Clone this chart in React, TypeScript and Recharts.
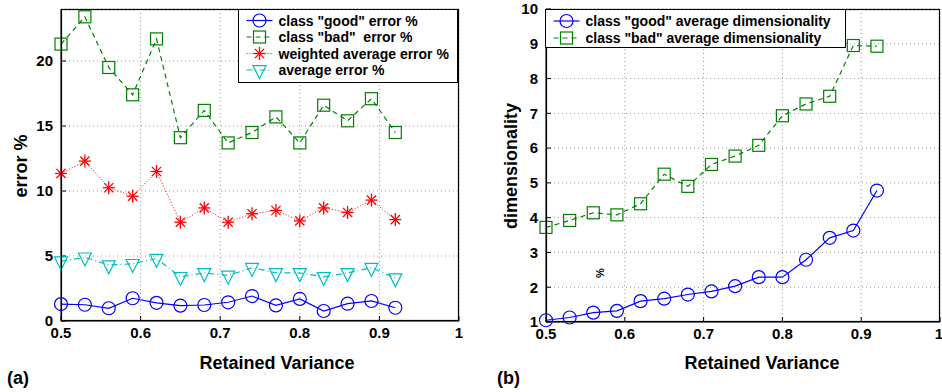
import React from 'react';
import { LineChart, Line, XAxis, YAxis, CartesianGrid } from 'recharts';

// values
const retainedVariance = [0.5, 0.53, 0.56, 0.59, 0.62, 0.65, 0.68, 0.71, 0.74, 0.77, 0.8, 0.83, 0.86, 0.89, 0.92];
const goodError = [1.3, 1.25, 0.98, 1.75, 1.4, 1.18, 1.23, 1.44, 1.92, 1.2, 1.7, 0.77, 1.33, 1.54, 1.02];
const badError = [21.3, 23.4, 19.5, 17.4, 21.7, 14.1, 16.2, 13.7, 14.5, 15.7, 13.7, 16.6, 15.4, 17.1, 14.5];
const weightedError = [11.35, 12.3, 10.25, 9.6, 11.5, 7.6, 8.7, 7.6, 8.25, 8.5, 7.7, 8.7, 8.35, 9.3, 7.8];
const averageError = [4.6, 4.9, 4.3, 4.4, 4.8, 3.4, 3.7, 3.5, 4.1, 3.7, 3.7, 3.4, 3.7, 4.1, 3.3];
const goodDim = [1.05, 1.13, 1.27, 1.32, 1.6, 1.67, 1.79, 1.88, 2.03, 2.29, 2.29, 2.79, 3.42, 3.63, 4.78];
const badDim = [3.72, 3.92, 4.14, 4.08, 4.4, 5.25, 4.9, 5.53, 5.77, 6.08, 6.93, 7.27, 7.49, 8.95, 8.93];

const xTicks = [0.5, 0.6, 0.7, 0.8, 0.9, 1];
const errorTicks = [0, 5, 10, 15, 20];
const dimTicks = [1, 2, 3, 4, 5, 6, 7, 8, 9, 10];

const legendA = ['class "good" error %', 'class "bad"  error %', 'weighted average error %', 'average error %'];
const legendB = ['class "good" average dimensionality', 'class "bad" average dimensionality'];

const FONT = '"Liberation Sans", Arial, Helvetica, sans-serif';
const BLUE = '#0000ff';
const GREEN = '#008000';
const RED = '#ff0000';
const CYAN = '#00bfbf';

// layout of the two panels
const Y_AXIS_W = 50;
const X_AXIS_H = 30;
const panelA = { left: 0, width: 470, margin: { top: 9, right: 11, left: 11, bottom: 41 } };
const panelB = { left: 470, width: 472, margin: { top: 9, right: 2, left: 26, bottom: 40 } };
const HEIGHT = 392;

const plotBox = (p: typeof panelA) => ({
  x: p.left + p.margin.left + Y_AXIS_W,
  y: p.margin.top,
  w: p.width - p.margin.left - p.margin.right - Y_AXIS_W,
  h: HEIGHT - p.margin.top - p.margin.bottom - X_AXIS_H,
});

const errorData = retainedVariance.map((x, i) => ({
  x,
  good: goodError[i],
  bad: badError[i],
  weighted: weightedError[i],
  average: averageError[i],
}));

const dimData = retainedVariance.map((x, i) => ({ x, good: goodDim[i], bad: badDim[i] }));

// markers, matlab style
const CircleMark = ({ cx, cy }: { cx: number; cy: number }) => (
  <circle cx={cx} cy={cy} r={6.5} fill="none" stroke={BLUE} strokeWidth={1.2} />
);
const SquareMark = ({ cx, cy }: { cx: number; cy: number }) => (
  <rect x={cx - 6} y={cy - 6} width={12} height={12} fill="none" stroke={GREEN} strokeWidth={1.2} />
);
const StarMark = ({ cx, cy }: { cx: number; cy: number }) => (
  <g stroke={RED} strokeWidth={1.3}>
    <line x1={cx - 6} y1={cy} x2={cx + 6} y2={cy} />
    <line x1={cx} y1={cy - 6.5} x2={cx} y2={cy + 6.5} />
    <line x1={cx - 4.6} y1={cy - 4.6} x2={cx + 4.6} y2={cy + 4.6} />
    <line x1={cx - 4.6} y1={cy + 4.6} x2={cx + 4.6} y2={cy - 4.6} />
  </g>
);
const TriMark = ({ cx, cy }: { cx: number; cy: number }) => (
  <polygon
    points={`${cx - 6.5},${cy - 4.3} ${cx + 6.5},${cy - 4.3} ${cx},${cy + 8.7}`}
    fill="none"
    stroke={CYAN}
    strokeWidth={1.2}
  />
);

const dotOf = (Mark: any) => (props: any) => {
  if (props.cx == null || props.cy == null) return <g key={`e-${props.index}`} />;
  return <Mark key={`d-${props.index}`} cx={props.cx} cy={props.cy} />;
};

const tickStyle = { fill: '#000', fontSize: 15, fontWeight: 'bold', fontFamily: FONT };

// last x label sits on the page edge, keep it inside
const XTick = (props: any) => {
  const { x, y, payload } = props;
  const last = payload.value === xTicks[xTicks.length - 1];
  return (
    <text x={last ? x + 3 : x} y={y} dy="0.71em" textAnchor={last ? 'end' : 'middle'} {...tickStyle}>
      {String(payload.value)}
    </text>
  );
};

const Legend = ({
  x, y, w, h, rowY, names, marks, dashes, colors,
}: {
  x: number; y: number; w: number; h: number; rowY: number[]; names: string[];
  marks: any[]; dashes: (string | undefined)[]; colors: string[];
}) => (
  <g>
    <rect x={x} y={y} width={w} height={h} fill="#fff" stroke="#000" strokeWidth={1} />
    {names.map((name, i) => {
      const Mark = marks[i];
      const cy = rowY[i];
      return (
        <g key={name}>
          <line x1={x + 8} y1={cy} x2={x + 34} y2={cy} stroke={colors[i]} strokeDasharray={dashes[i]} strokeWidth={1.2} />
          <Mark cx={x + 21} cy={cy} />
          <text
            x={x + 40}
            y={cy}
            dominantBaseline="central"
            fontFamily={FONT}
            fontWeight="bold"
            fontSize={14}
            fill="#000"
            style={{ whiteSpace: 'pre' }}
          >
            {name}
          </text>
        </g>
      );
    })}
  </g>
);

const axisProps = {
  interval: 0 as const,
  tickSize: -5,
  axisLine: { stroke: '#000' },
  tickLine: { stroke: '#000' },
};

export default function App() {
  const titleStyle = { fontFamily: FONT, fontWeight: 'bold' as const, fontSize: 18, fill: '#000' };
  const boxA = plotBox(panelA);
  const boxB = plotBox(panelB);
  return (
    <div style={{ position: 'absolute', left: 0, top: 0, width: 942, height: HEIGHT, background: '#fff' }}>
      <div style={{ position: 'absolute', left: panelA.left, top: 0 }}>
        <LineChart width={panelA.width} height={HEIGHT} data={errorData} margin={panelA.margin}>
          <CartesianGrid xAxisId="x" yAxisId="y" stroke="#999" strokeDasharray="1 3" />
          <XAxis
            xAxisId="x"
            dataKey="x"
            type="number"
            domain={[0.5, 1]}
            ticks={xTicks}
            height={X_AXIS_H}
            tickMargin={11}
            tick={tickStyle}
            tickFormatter={(v: number) => String(v)}
            {...axisProps}
          />
          <YAxis
            yAxisId="y"
            type="number"
            domain={[0, 24]}
            ticks={errorTicks}
            width={Y_AXIS_W}
            tickMargin={13}
            tick={tickStyle}
            {...axisProps}
          />
          <Line xAxisId="x" yAxisId="y" dataKey="good" stroke={BLUE} strokeWidth={1.2} dot={dotOf(CircleMark)} isAnimationActive={false} />
          <Line xAxisId="x" yAxisId="y" dataKey="bad" stroke={GREEN} strokeWidth={1.2} strokeDasharray="5 4" dot={dotOf(SquareMark)} isAnimationActive={false} />
          <Line xAxisId="x" yAxisId="y" dataKey="weighted" stroke={RED} strokeWidth={1} strokeDasharray="1 2" dot={dotOf(StarMark)} isAnimationActive={false} />
          <Line xAxisId="x" yAxisId="y" dataKey="average" stroke={CYAN} strokeWidth={1.2} strokeDasharray="6 3 1 3" dot={dotOf(TriMark)} isAnimationActive={false} />
        </LineChart>
      </div>
      <div style={{ position: 'absolute', left: panelB.left, top: 0 }}>
        <LineChart width={panelB.width} height={HEIGHT} data={dimData} margin={panelB.margin}>
          <CartesianGrid xAxisId="x" yAxisId="y" stroke="#999" strokeDasharray="1 3" />
          <XAxis
            xAxisId="x"
            dataKey="x"
            type="number"
            domain={[0.5, 1]}
            ticks={xTicks}
            height={X_AXIS_H}
            tickMargin={11}
            tick={<XTick />}
            {...axisProps}
          />
          <YAxis
            yAxisId="y"
            type="number"
            domain={[1, 10]}
            ticks={dimTicks}
            width={Y_AXIS_W}
            tickMargin={13}
            tick={tickStyle}
            {...axisProps}
          />
          <Line xAxisId="x" yAxisId="y" dataKey="good" stroke={BLUE} strokeWidth={1.2} dot={dotOf(CircleMark)} isAnimationActive={false} />
          <Line xAxisId="x" yAxisId="y" dataKey="bad" stroke={GREEN} strokeWidth={1.2} strokeDasharray="5 4" dot={dotOf(SquareMark)} isAnimationActive={false} />
        </LineChart>
      </div>
      <svg width={942} height={HEIGHT} style={{ position: 'absolute', left: 0, top: 0, pointerEvents: 'none', overflow: 'visible' }}>
        {/* full axes box around each plot */}
        {[boxA, boxB].map((b, i) => (
          <rect
            key={i}
            x={b.x + 0.5}
            y={b.y + 0.5}
            width={b.w - 1}
            height={b.h - 1}
            fill="none"
            stroke="#000"
            strokeWidth={1.2}
          />
        ))}
        <Legend
          x={238.5} y={9.5} w={219} h={73}
          rowY={[20.5, 37, 53.5, 70]}
          names={legendA}
          marks={[CircleMark, SquareMark, StarMark, TriMark]}
          dashes={[undefined, '5 4', '1 2', '6 3 1 3']}
          colors={[BLUE, GREEN, RED, CYAN]}
        />
        <Legend
          x={545.5} y={9.5} w={300} h={38}
          rowY={[21, 38]}
          names={legendB}
          marks={[CircleMark, SquareMark]}
          dashes={[undefined, '5 4']}
          colors={[BLUE, GREEN]}
        />
        <text x={277} y={363} textAnchor="middle" dominantBaseline="central" {...titleStyle}>Retained Variance</text>
        <text x={762} y={363} textAnchor="middle" dominantBaseline="central" {...titleStyle}>Retained Variance</text>
        <text x={21} y={166} textAnchor="middle" dominantBaseline="central" transform="rotate(-90 21 166)" {...titleStyle}>error %</text>
        <text x={511} y={166} textAnchor="middle" dominantBaseline="central" transform="rotate(-90 511 166)" {...titleStyle}>dimensionality</text>
        <text x={7} y={378} dominantBaseline="central" {...titleStyle}>(a)</text>
        <text x={497} y={378} dominantBaseline="central" {...titleStyle}>(b)</text>
        <text x={600} y={273} textAnchor="middle" dominantBaseline="central" transform="rotate(-90 600 273)" fontFamily={FONT} fontWeight="bold" fontSize={11} fill="#000">%</text>
      </svg>
    </div>
  );
}
